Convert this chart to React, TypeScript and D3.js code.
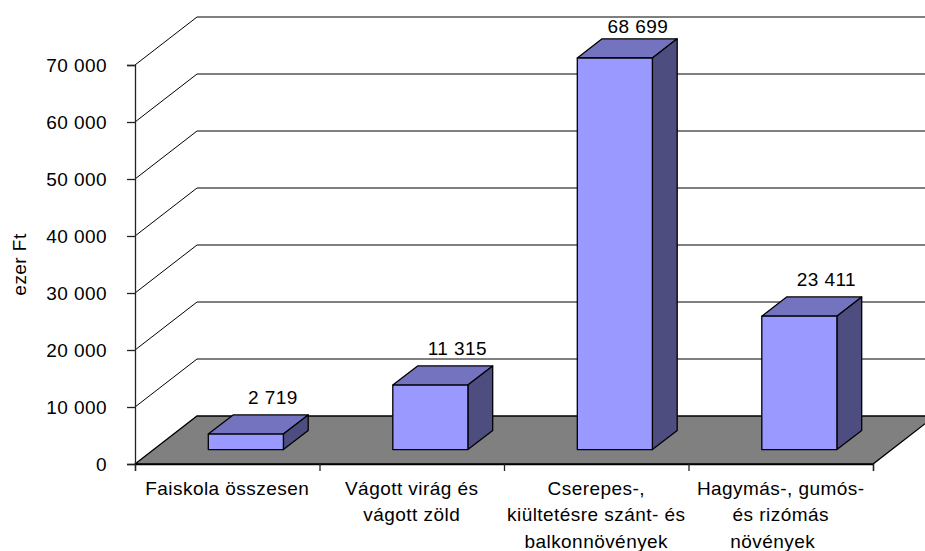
import { useEffect, useRef } from "react";
import * as d3 from "d3";

const categories = [
  ["Faiskola összesen"],
  ["Vágott virág és", "vágott zöld"],
  ["Cserepes-,", "kiültetésre szánt- és", "balkonnövények"],
  ["Hagymás-, gumós-", "és rizómás", "növények"],
];
const values = [2719, 11315, 68699, 23411];
const yTicks = [0, 10000, 20000, 30000, 40000, 50000, 60000, 70000];
const yTitle = "ezer Ft";

const width = 925;
const height = 551;
const FONT = "'Liberation Sans', Arial, sans-serif";
const FONT_SIZE = 19;
const SPACING = 0.45;

const fmt = d3.formatLocale({
  decimal: ",",
  thousands: " ",
  grouping: [3],
  currency: ["", ""],
}).format(",d");

export default function App() {
  const svgRef = useRef<SVGSVGElement>(null);

  useEffect(() => {
    const svg = d3.select(svgRef.current!);
    svg.selectAll("*").remove();

    const y = d3.scaleLinear().domain([0, 70000]).range([464, 65]);
    const x = d3
      .scaleBand<number>()
      .domain(d3.range(values.length))
      .range([135, 873])
      .paddingInner(0.593)
      .paddingOuter(0.2965);
    const step = x.step();
    // depth of the 3d box, 0 = front of floor, 1 = back wall
    const depthX = d3.scaleLinear().domain([0, 1]).range([0, 62]);
    const depthY = d3.scaleLinear().domain([0, 1]).range([0, -48]);
    const barFront = 0.3;
    const barBack = 0.7;
    const [xMin, xMax] = x.range();

    const pt = (px: number, v: number, d: number) =>
      [px + depthX(d), y(v) + depthY(d)] as [number, number];
    const poly = (pts: [number, number][]) => d3.line()(pts)! + "Z";

    const addText = (sel: d3.Selection<any, any, any, any>) =>
      sel
        .attr("font-family", FONT)
        .attr("font-size", FONT_SIZE)
        .attr("letter-spacing", SPACING)
        .attr("fill", "#000");

    // walls: gridlines run up the side wall, then along the back wall
    yTicks.slice(1).forEach((t) => {
      svg
        .append("path")
        .attr("d", d3.line()([pt(xMin, t, 0), pt(xMin, t, 1), [width, pt(xMin, t, 1)[1]]])!)
        .attr("fill", "none")
        .attr("stroke", "#000")
        .attr("stroke-width", 1);
    });

    // floor
    svg
      .append("path")
      .attr("d", poly([pt(xMin, 0, 0), pt(xMin, 0, 1), pt(xMax, 0, 1), pt(xMax, 0, 0)]))
      .attr("fill", "#808080")
      .attr("stroke", "#000")
      .attr("stroke-width", 1.3);

    // bars
    values.forEach((v, i) => {
      const x0 = x(i) as number;
      const x1 = x0 + x.bandwidth();
      const g = svg
        .append("g")
        .attr("stroke", "#000")
        .attr("stroke-width", 1.3)
        .attr("stroke-linejoin", "round");
      g.append("path")
        .attr("d", poly([pt(x0, v, barFront), pt(x0, v, barBack), pt(x1, v, barBack), pt(x1, v, barFront)]))
        .attr("fill", "#7373BF");
      g.append("path")
        .attr("d", poly([pt(x1, 0, barFront), pt(x1, 0, barBack), pt(x1, v, barBack), pt(x1, v, barFront)]))
        .attr("fill", "#4D4D80");
      g.append("path")
        .attr("d", poly([pt(x0, 0, barFront), pt(x1, 0, barFront), pt(x1, v, barFront), pt(x0, v, barFront)]))
        .attr("fill", "#9999FF");
    });

    // value labels, the tallest one gets pushed down by the top of the plot
    const labelY = (v: number) => pt(0, v, barBack)[1] - 11;
    const minLabelY = 33;
    addText(
      svg
        .append("g")
        .selectAll("text")
        .data(values)
        .join("text")
        .attr(
          "x",
          (d, i) =>
            pt(x(i) as number, 0, barFront)[0] +
            x.bandwidth() / 2 +
            (labelY(d) < minLabelY ? 23 : 27),
        )
        .attr("y", (d) => Math.max(minLabelY, labelY(d)))
        .attr("text-anchor", "middle")
        .text((d) => fmt(d)),
    );

    // axes
    const yAxis = svg
      .append("g")
      .attr("transform", `translate(${xMin},0)`)
      .call(
        d3
          .axisLeft(y)
          .tickValues(yTicks)
          .tickFormat((d) => fmt(d as number))
          .tickSize(8)
          .tickPadding(20),
      );
    yAxis.select(".domain").attr("stroke", "#222").attr("stroke-width", 1.3);
    yAxis.selectAll(".tick line").attr("stroke", "#222").attr("stroke-width", 1.3);
    addText(yAxis.selectAll("text"));

    const xTick = d3.scaleLinear().domain([0, values.length]).range([xMin, xMax]);
    const xAxis = svg
      .append("g")
      .attr("transform", `translate(0,${y(0)})`)
      .call(
        d3
          .axisBottom(xTick)
          .ticks(values.length)
          .tickFormat(() => "")
          .tickSize(7),
      );
    xAxis.select(".domain").attr("stroke", "#000").attr("stroke-width", 1.3);
    xAxis.selectAll(".tick line").attr("stroke", "#222").attr("stroke-width", 1.3);

    // category labels
    categories.forEach((lines, i) => {
      const cx = xMin + step * (i + 0.5);
      lines.forEach((line, j) => {
        addText(
          svg
            .append("text")
            .attr("x", cx + (line === "növények" ? -8 : 0))
            .attr("y", 495 + j * 26.3)
            .attr("text-anchor", "middle")
            .text(line),
        );
      });
    });

    // axis title
    addText(
      svg
        .append("text")
        .attr("transform", "translate(26,264.5) rotate(-90)")
        .attr("text-anchor", "middle")
        .text(yTitle),
    );
  }, []);

  return (
    <svg
      ref={svgRef}
      width={width}
      height={height}
      style={{ position: "absolute", left: 0, top: 0, background: "#fff" }}
    />
  );
}
